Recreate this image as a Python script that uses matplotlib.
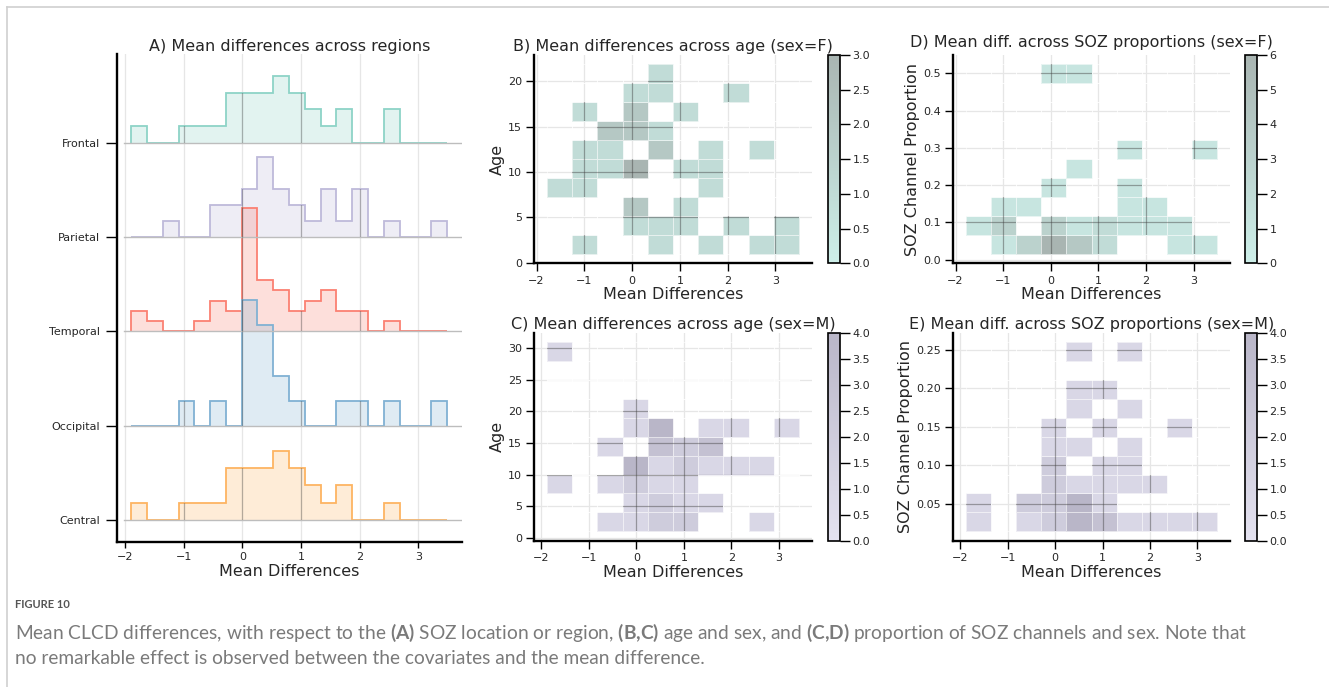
import numpy as np
import matplotlib
matplotlib.use("Agg")
import matplotlib.pyplot as plt
from matplotlib.colors import LinearSegmentedColormap
from matplotlib.lines import Line2D
from matplotlib.path import Path

# A) counts of mean differences per SOZ region, 20 shared bins
regions = ["Frontal", "Parietal", "Temporal", "Occipital", "Central"]
region_colors = ["#8dd3c7", "#bebada", "#fb8072", "#80b1d3", "#fdb462"]
region_bins = np.linspace(-1.897, 3.487, 21)
frontal = [1, 0, 0, 1, 1, 1, 3, 3, 3, 4, 3, 2, 1, 2, 0, 0, 2, 0, 0, 0]
parietal = [0, 0, 1, 0, 0, 2, 2, 3, 5, 3, 2, 1, 3, 1, 3, 0, 1, 0, 0, 1]
temporal = [2, 1, 0, 0, 1, 3, 2, 12, 5, 4, 2, 3, 4, 2, 2, 0, 1, 0, 0, 0]
occipital = [0, 0, 0, 1, 0, 1, 0, 5, 4, 2, 1, 0, 0, 1, 1, 0, 1, 0, 0, 1]
central = [1, 0, 0, 1, 1, 1, 3, 3, 3, 4, 3, 2, 1, 2, 0, 0, 1, 0, 0, 0]

# B-E) 2D histogram counts, rows = y bins (bottom -> top), cols = mean diff bins
diff_bins_f = np.linspace(-1.783, 3.497, 11)
diff_bins_m = np.linspace(-1.886, 3.425, 11)
age_bins_f = np.linspace(0.99, 21.87, 11)
age_bins_m = np.linspace(1.04, 30.86, 11)
soz_bins_f = np.linspace(0.0154, 0.524, 11)
soz_bins_m = np.linspace(0.0144, 0.2597, 11)

age_f = [[0, 1, 0, 0, 1, 0, 1, 0, 1, 1],
         [0, 0, 0, 1, 1, 1, 0, 1, 0, 1],
         [0, 0, 0, 2, 0, 1, 0, 0, 0, 0],
         [1, 1, 0, 0, 0, 0, 1, 0, 0, 0],
         [0, 1, 1, 3, 0, 1, 1, 0, 0, 0],
         [0, 1, 1, 0, 2, 0, 1, 0, 1, 0],
         [0, 0, 2, 2, 1, 0, 0, 0, 0, 0],
         [0, 1, 0, 2, 0, 1, 0, 0, 0, 0],
         [0, 0, 0, 1, 1, 0, 0, 1, 0, 0],
         [0, 0, 0, 0, 1, 0, 0, 0, 0, 0]]

age_m = [[0, 0, 1, 1, 2, 2, 0, 0, 1, 0],
         [0, 0, 0, 1, 2, 1, 1, 0, 0, 0],
         [1, 0, 1, 2, 1, 1, 0, 0, 0, 0],
         [0, 0, 0, 4, 1, 2, 1, 1, 1, 0],
         [0, 0, 1, 0, 3, 2, 3, 0, 0, 0],
         [0, 0, 0, 1, 4, 0, 1, 1, 0, 1],
         [0, 0, 0, 1, 0, 0, 0, 0, 0, 0],
         [0, 0, 0, 0, 0, 0, 0, 0, 0, 0],
         [0, 0, 0, 0, 0, 0, 0, 0, 0, 0],
         [1, 0, 0, 0, 0, 0, 0, 0, 0, 0]]

soz_f = [[0, 1, 3, 6, 4, 2, 0, 0, 1, 1],
         [1, 3, 0, 3, 1, 2, 1, 1, 1, 0],
         [0, 1, 1, 0, 0, 0, 1, 1, 0, 0],
         [0, 0, 0, 1, 0, 0, 1, 0, 0, 0],
         [0, 0, 0, 0, 1, 0, 0, 0, 0, 0],
         [0, 0, 0, 0, 0, 0, 1, 0, 0, 1],
         [0, 0, 0, 0, 0, 0, 0, 0, 0, 0],
         [0, 0, 0, 0, 0, 0, 0, 0, 0, 0],
         [0, 0, 0, 0, 0, 0, 0, 0, 0, 0],
         [0, 0, 0, 1, 1, 0, 0, 0, 0, 0]]

soz_m = [[1, 0, 1, 2, 4, 3, 1, 1, 1, 1],
         [1, 0, 2, 2, 4, 1, 0, 0, 0, 0],
         [0, 0, 0, 2, 1, 1, 1, 1, 0, 0],
         [0, 0, 0, 2, 0, 1, 1, 0, 0, 0],
         [0, 0, 0, 1, 1, 0, 1, 0, 0, 0],
         [0, 0, 0, 1, 0, 1, 0, 0, 1, 0],
         [0, 0, 0, 0, 1, 0, 1, 0, 0, 0],
         [0, 0, 0, 0, 1, 1, 0, 0, 0, 0],
         [0, 0, 0, 0, 0, 0, 0, 0, 0, 0],
         [0, 0, 0, 0, 1, 0, 1, 0, 0, 0]]

cmap_f = LinearSegmentedColormap.from_list("fem", ["#cdefe9", "#a9b5b2"])
cmap_m = LinearSegmentedColormap.from_list("mal", ["#e4e2f0", "#b9b6c8"])

TXT = "#262626"
GRID = "#e6e6e6"

fig = plt.figure(figsize=(13.29, 6.87), dpi=100)
W, H = 1329, 687


def style(ax, ylen, xlen):
    for s in ["top", "right"]:
        ax.spines[s].set_visible(False)
    for s in ["left", "bottom"]:
        ax.spines[s].set_linewidth(1.7)
    ax.tick_params(axis="y", labelsize=8, length=ylen, width=1, labelcolor=TXT)
    ax.tick_params(axis="x", labelsize=8, length=xlen, width=1, labelcolor=TXT)


# ---------------- panel A: ridgeline of histograms
axA = fig.add_axes([117 / W, 1 - 541.7 / H, 345 / W, 487.7 / H])
row_gap = 0.777
bw = region_bins[1] - region_bins[0]
axA.grid(axis="x", color=GRID, lw=0.9)
axA.set_axisbelow(True)
offs = []
for k, (name, counts, col) in enumerate(zip(regions, [frontal, parietal, temporal, occipital, central], region_colors)):
    off = (len(regions) - 1 - k) * row_gap
    offs.append(off)
    dens = np.asarray(counts) / (sum(counts) * bw)
    fill = axA.stairs(dens + off, region_bins, baseline=off, fill=True, color=col, alpha=0.25, lw=0)
    axA.stairs(dens + off, region_bins, baseline=off, color=col, lw=1.3)
    axA.axhline(off, xmin=0.02, color="#bdbdbd", lw=1)
    for t in range(-2, 4):
        ln = axA.axvline(t, color="0.3", alpha=0.35, lw=0.9)
        ln.set_clip_path(fill)
axA.set_xlim(-2.14, 3.745)
axA.set_ylim(-0.179, 3.839)
axA.set_xticks(range(-2, 4))
axA.set_yticks(offs)
axA.set_yticklabels(regions)
style(axA, 8, 4)
axA.tick_params(axis="y", pad=4)
axA.set_title("A) Mean differences across regions", fontsize=11.5, color=TXT, pad=2)
axA.set_xlabel("Mean Differences", fontsize=11.5, color=TXT, labelpad=1)


# ---------------- panels B-E: 2D histograms
def hist2d(rect, crect, xb, yb, counts, cmap, title, ylabel, tpad=3):
    ax = fig.add_axes(rect)
    cax = fig.add_axes(crect)
    counts = np.asarray(counts)
    mesh = ax.pcolormesh(xb, yb, np.ma.masked_equal(counts, 0), cmap=cmap, vmin=0,
                         vmax=counts.max(), edgecolors=(1, 1, 1, 0.6), linewidth=0.5)
    mesh.sticky_edges.x.clear()
    mesh.sticky_edges.y.clear()
    ax.margins(0.05)
    ax.autoscale_view()
    xl, yl = ax.get_xlim(), ax.get_ylim()
    ax.set_xlim(xl)
    ax.set_ylim(yl)
    ax.grid(color=GRID, lw=0.9)
    ax.set_axisbelow(True)

    # grid shows darker where it crosses filled cells
    verts, codes = [], []
    for j in range(counts.shape[0]):
        for i in range(counts.shape[1]):
            if counts[j, i] > 0:
                x0, x1, y0, y1 = xb[i], xb[i + 1], yb[j], yb[j + 1]
                verts += [(x0, y0), (x1, y0), (x1, y1), (x0, y1), (x0, y0)]
                codes += [Path.MOVETO, Path.LINETO, Path.LINETO, Path.LINETO, Path.CLOSEPOLY]
    clip = Path(verts, codes)
    for t in ax.get_xticks():
        if xl[0] <= t <= xl[1]:
            ln = ax.axvline(t, color="0.25", alpha=0.45, lw=0.9, zorder=3)
            ln.set_clip_path(clip, ax.transData)
    for t in ax.get_yticks():
        if yl[0] <= t <= yl[1]:
            ln = ax.axhline(t, color="0.25", alpha=0.45, lw=0.9, zorder=3)
            ln.set_clip_path(clip, ax.transData)

    style(ax, 5.5, 5.5)
    ax.set_title(title, fontsize=11.5, color=TXT, pad=tpad)
    ax.set_xlabel("Mean Differences", fontsize=11.5, color=TXT, labelpad=1)
    ax.set_ylabel(ylabel, fontsize=11.5, color=TXT, labelpad=2)

    cb = fig.colorbar(mesh, cax=cax)
    cb.outline.set_linewidth(1.2)
    cb.ax.tick_params(labelsize=8, length=7, width=1, labelcolor=TXT, pad=2)
    return ax


top_b, h_top = 1 - 263.3 / H, 208.3 / H
top_c, h_bot = 1 - 540.7 / H, 207.7 / H
hist2d([534.3 / W, top_b, 277.4 / W, h_top], [828 / W, top_b, 12 / W, h_top],
       diff_bins_f, age_bins_f, age_f, cmap_f, "B) Mean differences across age (sex=F)", "Age")
hist2d([534.3 / W, top_c, 277.4 / W, h_bot], [828 / W, top_c, 12 / W, h_bot],
       diff_bins_m, age_bins_m, age_m, cmap_m, "C) Mean differences across age (sex=M)", "Age")
hist2d([953.3 / W, top_b, 276.7 / W, h_top], [1245 / W, top_b, 12 / W, h_top],
       diff_bins_f, soz_bins_f, soz_f, cmap_f, "D) Mean diff. across SOZ proportions (sex=F)",
       "SOZ Channel Proportion", tpad=6)
hist2d([953.3 / W, top_c, 276.7 / W, h_bot], [1245 / W, top_c, 12 / W, h_bot],
       diff_bins_m, soz_bins_m, soz_m, cmap_m, "E) Mean diff. across SOZ proportions (sex=M)",
       "SOZ Channel Proportion")

# ---------------- frame and caption
fig.add_artist(Line2D([7 / W, 1], [1 - 7 / H, 1 - 7 / H], transform=fig.transFigure, color="#d0d0d0", lw=1.2))
fig.add_artist(Line2D([7 / W, 7 / W], [0, 1 - 7 / H], transform=fig.transFigure, color="#d0d0d0", lw=1.2))

plt.rcParams["mathtext.fontset"] = "custom"
plt.rcParams["mathtext.rm"] = "Lato"
plt.rcParams["mathtext.bf"] = "Lato:bold"
fig.text(15 / W, 1 - 605 / H, "FIGURE 10", fontsize=8, fontweight="bold", color="#555555",
         family="Lato", va="center")
fig.text(15 / W, 1 - 633 / H,
         r"Mean CLCD differences, with respect to the $\mathbf{(A)}$ SOZ location or region, "
         r"$\mathbf{(B{,}C)}$ age and sex, and $\mathbf{(C{,}D)}$ proportion of SOZ channels and sex. Note that",
         fontsize=13.8, color="#7a7a7a", family="Lato", va="center")
fig.text(15 / W, 1 - 659 / H,
         "no remarkable effect is observed between the covariates and the mean difference.",
         fontsize=13.8, color="#7a7a7a", family="Lato", va="center")

fig.savefig("out.png", dpi=100)
